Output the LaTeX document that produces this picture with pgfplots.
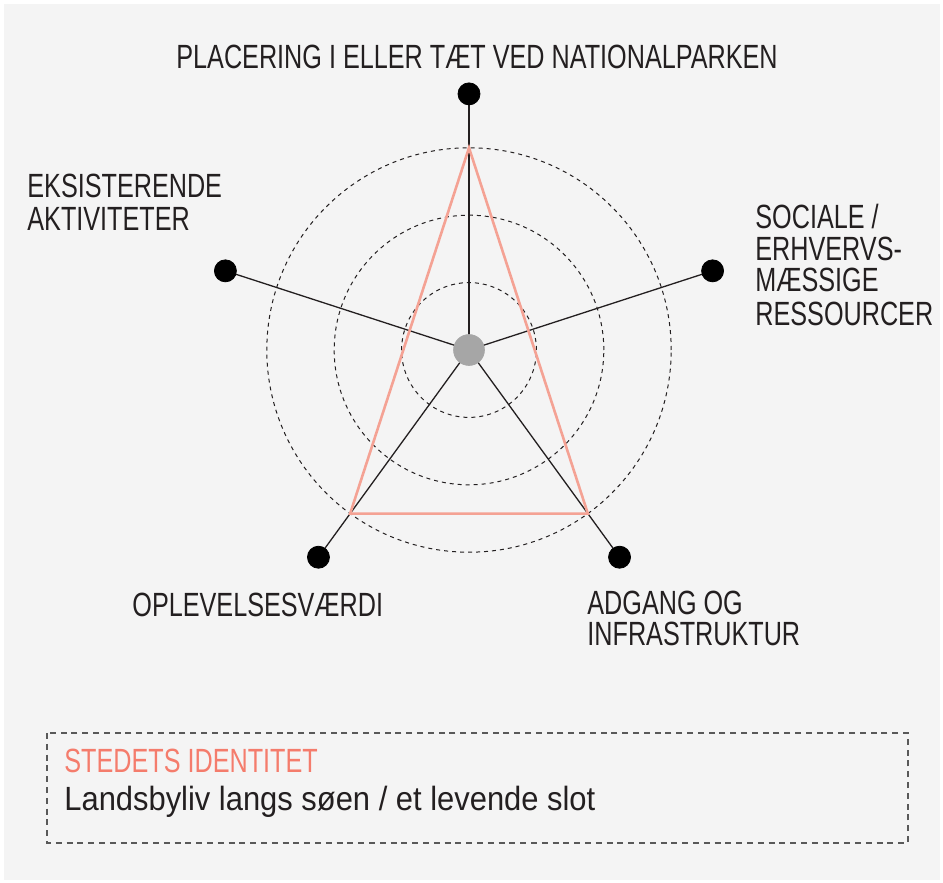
\documentclass[border=0pt]{standalone}
\usepackage{pgfplots}
\pgfplotsset{compat=1.18}
\usepackage{fontspec}
\setmainfont{Liberation Sans}[FakeStretch=0.75]
\newfontfamily\lowfont{Liberation Sans}[FakeStretch=0.92]
\definecolor{bg}{HTML}{F4F4F4}
\definecolor{txt}{HTML}{231F20}
\definecolor{salmon}{HTML}{F47C6C}
\definecolor{polyc}{HTML}{F4A294}
\definecolor{dotgray}{HTML}{A6A6A6}
\begin{document}
\begin{tikzpicture}[x=0.5pt,y=-0.5pt]
\fill[white] (0,0) rectangle (943,883);
\fill[bg] (4,4) rectangle (940,880);
\begin{axis}[at={(234.5pt,-175pt)}, anchor=center, hide axis, clip=false,
  x=33.7pt, y=33.7pt, xmin=-4, xmax=4, ymin=-4, ymax=4]
  % dashed grid circles
  \draw[txt, line width=0.5pt, dash pattern=on 2pt off 2pt] (axis cs:0,0) circle[radius=1];
  \draw[txt, line width=0.5pt, dash pattern=on 2pt off 2pt] (axis cs:0,0) circle[radius=2];
  \draw[txt, line width=0.5pt, dash pattern=on 2pt off 2pt] (axis cs:0,0) circle[radius=3];
  % spokes
  \addplot[txt, line width=0.65pt, data cs=polar] coordinates {(90,0) (90,3.8)};
  \addplot[txt, line width=0.65pt, data cs=polar] coordinates {(18,0) (18,3.8)};
  \addplot[txt, line width=0.65pt, data cs=polar] coordinates {(-54,0) (-54,3.8)};
  \addplot[txt, line width=0.65pt, data cs=polar] coordinates {(-126,0) (-126,3.8)};
  \addplot[txt, line width=0.65pt, data cs=polar] coordinates {(162,0) (162,3.8)};
  % data polygon
  \addplot[polyc, line width=1.3pt, data cs=polar, line join=miter] coordinates {(90,3) (-54,3) (-126,3) (90,3)} -- cycle;
  % endpoint dots
  \addplot[only marks, mark=*, mark size=5.5pt, mark options={fill=black, draw=black}, data cs=polar]
    coordinates {(90,3.8) (18,3.8) (-54,3.8) (-126,3.8) (162,3.8)};
  % center dot
  \addplot[only marks, mark=*, mark size=7.7pt, mark options={fill=dotgray, draw=dotgray}]
    coordinates {(0,0)};
\end{axis}
\tikzset{lab/.style={inner sep=0pt, text=txt, font=\fontsize{16.8}{16.8}\selectfont}}
\node[lab, anchor=base] at (477,69) {PLACERING I ELLER TÆT VED NATIONALPARKEN};
\node[lab, anchor=base west] at (27,198) {EKSISTERENDE};
\node[lab, anchor=base west] at (27,230) {AKTIVITETER};
\node[lab, anchor=base west] at (755,228) {SOCIALE /};
\node[lab, anchor=base west] at (755,260) {ERHVERVS-};
\node[lab, anchor=base west] at (755,292) {MÆSSIGE};
\node[lab, anchor=base west] at (755,325) {RESSOURCER};
\node[lab, anchor=base west] at (132,616) {OPLEVELSESVÆRDI};
\node[lab, anchor=base west] at (587,614) {ADGANG OG};
\node[lab, anchor=base west] at (587,645) {INFRASTRUKTUR};
% legend box
\draw[black!65, line width=0.6pt, dash pattern=on 3pt off 2.4pt] (47,733) rectangle (908,843);
\node[lab, anchor=base west, text=salmon] at (64,772.5) {STEDETS IDENTITET};
\node[lab, anchor=base west, font=\lowfont\fontsize{16.8}{16.8}\selectfont] at (64,810.5) {Landsbyliv langs søen / et levende slot};
\end{tikzpicture}
\end{document}
